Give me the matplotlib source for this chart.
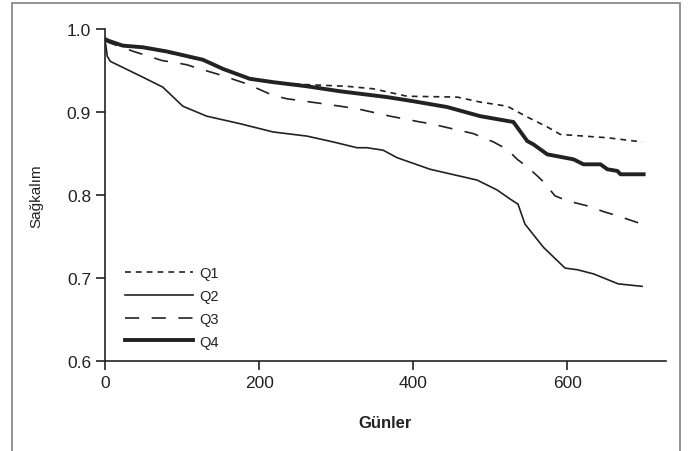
import matplotlib
matplotlib.use("Agg")
import matplotlib.pyplot as plt
from matplotlib.patches import Rectangle

plt.rcParams["font.family"] = ["Liberation Sans", "DejaVu Sans"]

# Kaplan-Meier eğrileri (gün, sağkalım) - görselden okunan değerler
q1_days = [0, 4, 23, 49, 80, 127, 153, 188, 218, 262, 314, 348, 392, 457, 487, 522, 548, 574, 591, 652, 697]
q1_surv = [0.988, 0.986, 0.980, 0.978, 0.972, 0.962, 0.952, 0.941, 0.936, 0.933, 0.931, 0.928, 0.919, 0.918,
           0.912, 0.907, 0.894, 0.882, 0.873, 0.869, 0.864]

q2_days = [0, 3, 7, 49, 75, 101, 132, 175, 218, 262, 296, 327, 340, 361, 379, 422, 483, 509, 526, 536,
           545, 569, 597, 613, 634, 666, 697]
q2_surv = [0.988, 0.967, 0.961, 0.942, 0.930, 0.907, 0.895, 0.886, 0.876, 0.871, 0.864, 0.857, 0.857,
           0.854, 0.845, 0.831, 0.818, 0.806, 0.795, 0.789, 0.765, 0.737, 0.712, 0.710, 0.705, 0.693, 0.690]

q3_days = [0, 4, 37, 54, 74, 88, 106, 123, 145, 184, 218, 236, 283, 327, 370, 409, 422, 478, 504, 522,
           535, 548, 561, 569, 584, 600, 630, 647, 665, 697]
q3_surv = [0.988, 0.984, 0.973, 0.968, 0.962, 0.960, 0.957, 0.952, 0.946, 0.934, 0.920, 0.916, 0.910,
           0.904, 0.895, 0.888, 0.886, 0.874, 0.864, 0.855, 0.843, 0.834, 0.823, 0.816, 0.799, 0.793,
           0.786, 0.780, 0.775, 0.765]

q4_days = [0, 4, 23, 49, 80, 127, 153, 188, 218, 262, 305, 366, 400, 444, 487, 530, 548, 556, 574, 608,
           621, 643, 652, 665, 669, 699]
q4_surv = [0.988, 0.986, 0.980, 0.978, 0.973, 0.963, 0.952, 0.940, 0.936, 0.931, 0.925, 0.918, 0.913,
           0.906, 0.895, 0.888, 0.865, 0.861, 0.849, 0.843, 0.837, 0.837, 0.831, 0.829, 0.825, 0.825]

x_ticks = [0, 200, 400, 600]
y_ticks = [0.6, 0.7, 0.8, 0.9, 1.0]
ink = "#222222"

fig = plt.figure(figsize=(6.93, 4.52), dpi=100)
ax = fig.add_axes([0.1515, 0.199, 0.8095, 0.7346])

ax.plot(q1_days, q1_surv, color=ink, lw=1.2, dashes=(3.5, 3.0), label="Q1")
ax.plot(q2_days, q2_surv, color=ink, lw=1.2, label="Q2")
ax.plot(q3_days, q3_surv, color=ink, lw=1.2, dashes=(8.5, 7.5), label="Q3")
ax.plot(q4_days, q4_surv, color=ink, lw=2.8, label="Q4")

ax.set_xlim(0, 728)
ax.set_ylim(0.6, 1.0)
ax.set_xticks(x_ticks)
ax.set_yticks(y_ticks)
ax.set_yticklabels([f"{v:.1f}" for v in y_ticks])
for s in ["top", "right"]:
    ax.spines[s].set_visible(False)
for s in ["left", "bottom"]:
    ax.spines[s].set_linewidth(1.2)
    ax.spines[s].set_color(ink)
ax.tick_params(direction="out", length=6.5, width=1.2, color=ink, labelsize=12.5,
               labelcolor=ink, pad=3.5)

ax.set_ylabel("Sağkalım", fontsize=11, color=ink, labelpad=17)
ax.set_xlabel("Günler", fontsize=12, fontweight="bold", color=ink, labelpad=18)

leg = ax.legend(loc="upper left", bbox_to_anchor=(0.012, 0.325), frameon=False, fontsize=10.5,
                handlelength=4.7, handletextpad=0.4, labelspacing=0.6)
for t in leg.get_texts():
    t.set_color(ink)

fig.patches.append(Rectangle((0.0173, -0.05), 0.9637, 1.041, transform=fig.transFigure,
                             fill=False, edgecolor="#8a8a8a", lw=1.3))

fig.savefig("out.png", dpi=100)
